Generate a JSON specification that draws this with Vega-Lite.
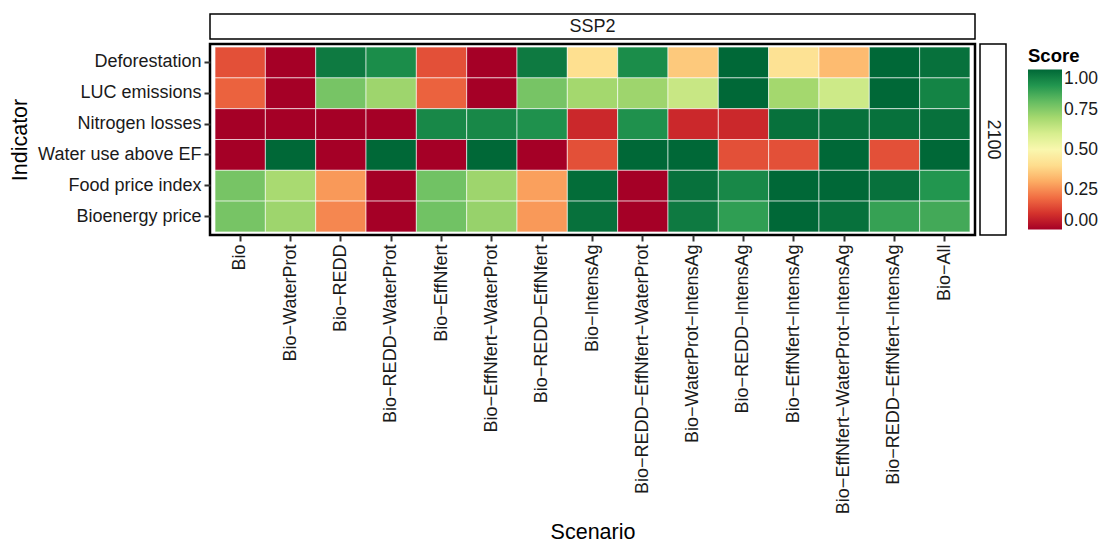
{
  "$schema": "https://vega.github.io/schema/vega-lite/v6.json",
  "padding": {"left": 8, "top": 13, "right": 5, "bottom": 5},
  "background": "white",
  "config": {
    "font": "Liberation Sans",
    "axis": {
      "labelFontSize": 18,
      "labelColor": "#1a1a1a",
      "labelLimit": 400,
      "titleFontSize": 21.5,
      "titleFontWeight": "normal",
      "titleColor": "#000000",
      "tickColor": "#333333",
      "tickSize": 6,
      "tickWidth": 2,
      "domain": false,
      "grid": false,
      "labelPadding": 3,
      "titlePadding": 6
    },
    "legend": {
      "titleFontSize": 18.5,
      "titleFontWeight": "bold",
      "titleColor": "#000000",
      "labelFontSize": 17.5,
      "labelColor": "#1a1a1a",
      "gradientLength": 160,
      "gradientThickness": 34,
      "labelOffset": 7,
      "titlePadding": 4,
      "labelOverlap": false
    }
  },
  "columns": 2,
  "spacing": 2,
  "concat": [
    {
      "width": 765,
      "height": 25,
      "data": {"values": [{"strip": "SSP2"}]},
      "mark": {"type": "text", "fontSize": 18, "color": "#1a1a1a", "font": "Liberation Sans"},
      "encoding": {"text": {"field": "strip", "type": "nominal"}},
      "view": {"stroke": "black", "strokeWidth": 1.5, "fill": "white"}
    },
    {
      "width": 26,
      "height": 25,
      "data": {"values": [{"strip": ""}]},
      "mark": {"type": "text"},
      "encoding": {"text": {"field": "strip", "type": "nominal"}},
      "view": {"stroke": null}
    },
    {
      "width": 765,
      "height": 191,
      "data": {
        "values": [
          {"Scenario": "Bio", "Indicator": "Deforestation", "Score": 0.15},
          {"Scenario": "Bio−WaterProt", "Indicator": "Deforestation", "Score": 0},
          {"Scenario": "Bio−REDD", "Indicator": "Deforestation", "Score": 0.96},
          {"Scenario": "Bio−REDD−WaterProt", "Indicator": "Deforestation", "Score": 0.92},
          {"Scenario": "Bio−EffNfert", "Indicator": "Deforestation", "Score": 0.15},
          {"Scenario": "Bio−EffNfert−WaterProt", "Indicator": "Deforestation", "Score": 0},
          {"Scenario": "Bio−REDD−EffNfert", "Indicator": "Deforestation", "Score": 0.96},
          {"Scenario": "Bio−IntensAg", "Indicator": "Deforestation", "Score": 0.41},
          {"Scenario": "Bio−REDD−EffNfert−WaterProt", "Indicator": "Deforestation", "Score": 0.92},
          {"Scenario": "Bio−WaterProt−IntensAg", "Indicator": "Deforestation", "Score": 0.36},
          {"Scenario": "Bio−REDD−IntensAg", "Indicator": "Deforestation", "Score": 1},
          {"Scenario": "Bio−EffNfert−IntensAg", "Indicator": "Deforestation", "Score": 0.42},
          {"Scenario": "Bio−EffNfert−WaterProt−IntensAg", "Indicator": "Deforestation", "Score": 0.33},
          {"Scenario": "Bio−REDD−EffNfert−IntensAg", "Indicator": "Deforestation", "Score": 1},
          {"Scenario": "Bio−All", "Indicator": "Deforestation", "Score": 0.98},

          {"Scenario": "Bio", "Indicator": "LUC emissions", "Score": 0.18},
          {"Scenario": "Bio−WaterProt", "Indicator": "LUC emissions", "Score": 0},
          {"Scenario": "Bio−REDD", "Indicator": "LUC emissions", "Score": 0.77},
          {"Scenario": "Bio−REDD−WaterProt", "Indicator": "LUC emissions", "Score": 0.71},
          {"Scenario": "Bio−EffNfert", "Indicator": "LUC emissions", "Score": 0.18},
          {"Scenario": "Bio−EffNfert−WaterProt", "Indicator": "LUC emissions", "Score": 0},
          {"Scenario": "Bio−REDD−EffNfert", "Indicator": "LUC emissions", "Score": 0.77},
          {"Scenario": "Bio−IntensAg", "Indicator": "LUC emissions", "Score": 0.7},
          {"Scenario": "Bio−REDD−EffNfert−WaterProt", "Indicator": "LUC emissions", "Score": 0.71},
          {"Scenario": "Bio−WaterProt−IntensAg", "Indicator": "LUC emissions", "Score": 0.63},
          {"Scenario": "Bio−REDD−IntensAg", "Indicator": "LUC emissions", "Score": 1},
          {"Scenario": "Bio−EffNfert−IntensAg", "Indicator": "LUC emissions", "Score": 0.7},
          {"Scenario": "Bio−EffNfert−WaterProt−IntensAg", "Indicator": "LUC emissions", "Score": 0.62},
          {"Scenario": "Bio−REDD−EffNfert−IntensAg", "Indicator": "LUC emissions", "Score": 1},
          {"Scenario": "Bio−All", "Indicator": "LUC emissions", "Score": 0.94},

          {"Scenario": "Bio", "Indicator": "Nitrogen losses", "Score": 0},
          {"Scenario": "Bio−WaterProt", "Indicator": "Nitrogen losses", "Score": 0},
          {"Scenario": "Bio−REDD", "Indicator": "Nitrogen losses", "Score": 0},
          {"Scenario": "Bio−REDD−WaterProt", "Indicator": "Nitrogen losses", "Score": 0},
          {"Scenario": "Bio−EffNfert", "Indicator": "Nitrogen losses", "Score": 0.93},
          {"Scenario": "Bio−EffNfert−WaterProt", "Indicator": "Nitrogen losses", "Score": 0.93},
          {"Scenario": "Bio−REDD−EffNfert", "Indicator": "Nitrogen losses", "Score": 0.91},
          {"Scenario": "Bio−IntensAg", "Indicator": "Nitrogen losses", "Score": 0.08},
          {"Scenario": "Bio−REDD−EffNfert−WaterProt", "Indicator": "Nitrogen losses", "Score": 0.91},
          {"Scenario": "Bio−WaterProt−IntensAg", "Indicator": "Nitrogen losses", "Score": 0.08},
          {"Scenario": "Bio−REDD−IntensAg", "Indicator": "Nitrogen losses", "Score": 0.08},
          {"Scenario": "Bio−EffNfert−IntensAg", "Indicator": "Nitrogen losses", "Score": 0.98},
          {"Scenario": "Bio−EffNfert−WaterProt−IntensAg", "Indicator": "Nitrogen losses", "Score": 0.98},
          {"Scenario": "Bio−REDD−EffNfert−IntensAg", "Indicator": "Nitrogen losses", "Score": 0.98},
          {"Scenario": "Bio−All", "Indicator": "Nitrogen losses", "Score": 0.98},

          {"Scenario": "Bio", "Indicator": "Water use above EF", "Score": 0},
          {"Scenario": "Bio−WaterProt", "Indicator": "Water use above EF", "Score": 1},
          {"Scenario": "Bio−REDD", "Indicator": "Water use above EF", "Score": 0},
          {"Scenario": "Bio−REDD−WaterProt", "Indicator": "Water use above EF", "Score": 1},
          {"Scenario": "Bio−EffNfert", "Indicator": "Water use above EF", "Score": 0},
          {"Scenario": "Bio−EffNfert−WaterProt", "Indicator": "Water use above EF", "Score": 1},
          {"Scenario": "Bio−REDD−EffNfert", "Indicator": "Water use above EF", "Score": 0},
          {"Scenario": "Bio−IntensAg", "Indicator": "Water use above EF", "Score": 0.15},
          {"Scenario": "Bio−REDD−EffNfert−WaterProt", "Indicator": "Water use above EF", "Score": 1},
          {"Scenario": "Bio−WaterProt−IntensAg", "Indicator": "Water use above EF", "Score": 1},
          {"Scenario": "Bio−REDD−IntensAg", "Indicator": "Water use above EF", "Score": 0.15},
          {"Scenario": "Bio−EffNfert−IntensAg", "Indicator": "Water use above EF", "Score": 0.15},
          {"Scenario": "Bio−EffNfert−WaterProt−IntensAg", "Indicator": "Water use above EF", "Score": 1},
          {"Scenario": "Bio−REDD−EffNfert−IntensAg", "Indicator": "Water use above EF", "Score": 0.15},
          {"Scenario": "Bio−All", "Indicator": "Water use above EF", "Score": 1},

          {"Scenario": "Bio", "Indicator": "Food price index", "Score": 0.77},
          {"Scenario": "Bio−WaterProt", "Indicator": "Food price index", "Score": 0.69},
          {"Scenario": "Bio−REDD", "Indicator": "Food price index", "Score": 0.27},
          {"Scenario": "Bio−REDD−WaterProt", "Indicator": "Food price index", "Score": 0},
          {"Scenario": "Bio−EffNfert", "Indicator": "Food price index", "Score": 0.78},
          {"Scenario": "Bio−EffNfert−WaterProt", "Indicator": "Food price index", "Score": 0.71},
          {"Scenario": "Bio−REDD−EffNfert", "Indicator": "Food price index", "Score": 0.28},
          {"Scenario": "Bio−IntensAg", "Indicator": "Food price index", "Score": 0.99},
          {"Scenario": "Bio−REDD−EffNfert−WaterProt", "Indicator": "Food price index", "Score": 0},
          {"Scenario": "Bio−WaterProt−IntensAg", "Indicator": "Food price index", "Score": 0.98},
          {"Scenario": "Bio−REDD−IntensAg", "Indicator": "Food price index", "Score": 0.93},
          {"Scenario": "Bio−EffNfert−IntensAg", "Indicator": "Food price index", "Score": 1},
          {"Scenario": "Bio−EffNfert−WaterProt−IntensAg", "Indicator": "Food price index", "Score": 1},
          {"Scenario": "Bio−REDD−EffNfert−IntensAg", "Indicator": "Food price index", "Score": 0.98},
          {"Scenario": "Bio−All", "Indicator": "Food price index", "Score": 0.9},

          {"Scenario": "Bio", "Indicator": "Bioenergy price", "Score": 0.77},
          {"Scenario": "Bio−WaterProt", "Indicator": "Bioenergy price", "Score": 0.71},
          {"Scenario": "Bio−REDD", "Indicator": "Bioenergy price", "Score": 0.24},
          {"Scenario": "Bio−REDD−WaterProt", "Indicator": "Bioenergy price", "Score": 0},
          {"Scenario": "Bio−EffNfert", "Indicator": "Bioenergy price", "Score": 0.78},
          {"Scenario": "Bio−EffNfert−WaterProt", "Indicator": "Bioenergy price", "Score": 0.72},
          {"Scenario": "Bio−REDD−EffNfert", "Indicator": "Bioenergy price", "Score": 0.27},
          {"Scenario": "Bio−IntensAg", "Indicator": "Bioenergy price", "Score": 0.98},
          {"Scenario": "Bio−REDD−EffNfert−WaterProt", "Indicator": "Bioenergy price", "Score": 0},
          {"Scenario": "Bio−WaterProt−IntensAg", "Indicator": "Bioenergy price", "Score": 0.96},
          {"Scenario": "Bio−REDD−IntensAg", "Indicator": "Bioenergy price", "Score": 0.88},
          {"Scenario": "Bio−EffNfert−IntensAg", "Indicator": "Bioenergy price", "Score": 1},
          {"Scenario": "Bio−EffNfert−WaterProt−IntensAg", "Indicator": "Bioenergy price", "Score": 0.98},
          {"Scenario": "Bio−REDD−EffNfert−IntensAg", "Indicator": "Bioenergy price", "Score": 0.87},
          {"Scenario": "Bio−All", "Indicator": "Bioenergy price", "Score": 0.85}
        ]
      },
      "mark": {"type": "rect", "stroke": "white", "strokeWidth": 0.6},
      "encoding": {
        "x": {
          "field": "Scenario",
          "type": "nominal",
          "sort": ["Bio", "Bio−WaterProt", "Bio−REDD", "Bio−REDD−WaterProt", "Bio−EffNfert", "Bio−EffNfert−WaterProt", "Bio−REDD−EffNfert", "Bio−IntensAg", "Bio−REDD−EffNfert−WaterProt", "Bio−WaterProt−IntensAg", "Bio−REDD−IntensAg", "Bio−EffNfert−IntensAg", "Bio−EffNfert−WaterProt−IntensAg", "Bio−REDD−EffNfert−IntensAg", "Bio−All"],
          "scale": {"paddingInner": 0, "paddingOuter": 0.1},
          "axis": {"labelAngle": -90, "title": "Scenario", "titlePadding": 86}
        },
        "y": {
          "field": "Indicator",
          "type": "nominal",
          "sort": ["Deforestation", "LUC emissions", "Nitrogen losses", "Water use above EF", "Food price index", "Bioenergy price"],
          "scale": {"paddingInner": 0, "paddingOuter": 0.1},
          "axis": {"title": "Indicator"}
        },
        "color": {
          "field": "Score",
          "type": "quantitative",
          "scale": {"scheme": "redyellowgreen", "domain": [0, 1]},
          "legend": {"title": "Score", "values": [0, 0.25, 0.5, 0.75, 1], "format": ".2f", "labelBaseline": "middle", "orient": "none", "legendX": 818, "legendY": 33}
        }
      },
      "view": {"stroke": "black", "strokeWidth": 2.5}
    },
    {
      "width": 26,
      "height": 191,
      "data": {"values": [{"strip": "2100"}]},
      "mark": {"type": "text", "fontSize": 18, "color": "#1a1a1a", "angle": 90, "font": "Liberation Sans"},
      "encoding": {"text": {"field": "strip", "type": "nominal"}},
      "view": {"stroke": "black", "strokeWidth": 1.5, "fill": "white"}
    }
  ]
}
